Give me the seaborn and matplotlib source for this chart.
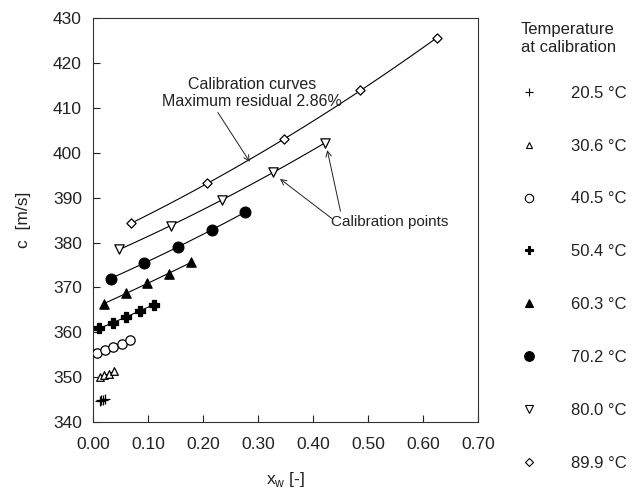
import numpy as np
import pandas as pd
import matplotlib
matplotlib.use("Agg")
import matplotlib.pyplot as plt
from matplotlib.lines import Line2D
import seaborn as sns

sns.set_style("ticks")
plt.rcParams['font.family'] = ['Liberation Sans', 'DejaVu Sans']
plt.rcParams['mathtext.fontset'] = 'custom'
plt.rcParams['mathtext.rm'] = 'Liberation Sans'

# calibration points: water fraction x_w and sound speed c (m/s)
temps = ["20.5", "30.6", "40.5", "50.4", "60.3", "70.2", "80.0", "89.9"]

x_205 = [0.012, 0.015, 0.018, 0.021]
c_205 = [344.8, 344.9, 345.0, 345.1]
x_306 = [0.012, 0.020, 0.029, 0.038]
c_306 = [350.1, 350.4, 350.8, 351.3]
x_405 = [0.007, 0.022, 0.037, 0.052, 0.067]
c_405 = [355.5, 356.1, 356.8, 357.5, 358.3]
x_504 = [0.011, 0.037, 0.060, 0.085, 0.111]
c_504 = [360.9, 362.1, 363.5, 364.8, 366.2]
x_603 = [0.020, 0.060, 0.098, 0.138, 0.178]
c_603 = [366.4, 368.7, 370.9, 373.1, 375.6]
x_702 = [0.032, 0.093, 0.155, 0.216, 0.277]
c_702 = [372.0, 375.5, 379.0, 382.9, 386.8]
x_800 = [0.047, 0.141, 0.234, 0.328, 0.422]
c_800 = [378.5, 383.6, 389.6, 395.7, 402.2]
x_899 = [0.069, 0.208, 0.348, 0.486, 0.625]
c_899 = [384.3, 393.2, 403.1, 413.9, 425.6]

xs = [x_205, x_306, x_405, x_504, x_603, x_702, x_800, x_899]
cs = [c_205, c_306, c_405, c_504, c_603, c_702, c_800, c_899]

# marker, filled?, size
styles = [("+", True, 45), ("^", False, 30), ("o", False, 45), ("P", True, 45),
          ("^", True, 45), ("o", True, 60), ("v", False, 45), ("D", False, 22)]

fig = plt.figure(figsize=(6.33, 4.92), dpi=100)
ax = fig.add_axes([0.147, 0.142, 0.608, 0.821])

for t, x, c, (m, filled, s) in zip(temps, xs, cs, styles):
    df = pd.DataFrame({"x": x, "c": c})
    # fitted calibration curve
    sns.regplot(data=df, x="x", y="c", order=2, ci=None, scatter=False, ax=ax,
                line_kws={"color": "black", "lw": 0.8})
    sns.scatterplot(data=df, x="x", y="c", marker=m, s=s, ax=ax,
                    color="black" if filled else "white", edgecolor="black",
                    linewidth=0.9, zorder=3)

ax.set_xlim(0, 0.70)
ax.set_ylim(340, 430)
ax.set_xticks(np.arange(0, 0.71, 0.1))
ax.set_xticklabels([f"{v:.2f}" for v in np.arange(0, 0.71, 0.1)])
ax.set_yticks(np.arange(340, 431, 10))
ax.tick_params(direction="in", labelsize=12.5, length=5, width=0.8, colors="#222222",
               labelcolor="#222222")
ax.tick_params(axis="x", pad=11)
ax.tick_params(axis="y", pad=8)
for sp in ax.spines.values():
    sp.set_linewidth(0.8)
    sp.set_color("#333333")
ax.set_xlabel(r"x$_\mathrm{w}$ [-]", fontsize=12.5, labelpad=13, color="#222222")
ax.set_ylabel("c  [m/s]", fontsize=12.5, labelpad=16, color="#222222")

arrow = dict(arrowstyle="->", color="#222222", lw=0.7, shrinkA=0, shrinkB=0)
ax.text(0.289, 413.3, "Calibration curves\nMaximum residual 2.86%", ha="center",
        va="center", fontsize=11.5, linespacing=1.2, color="#222222")
ax.annotate("", xy=(0.285, 398.0), xytext=(0.227, 409.0), arrowprops=arrow)
ax.annotate("", xy=(0.34, 394.2), xytext=(0.434, 385.4), arrowprops=arrow)
ax.annotate("", xy=(0.426, 400.6), xytext=(0.450, 387.0), arrowprops=arrow)
ax.text(0.433, 384.6, "Calibration points", fontsize=11, va="center", ha="left",
        color="#222222")

fig.text(0.823, 1 - 38.5 / 492, "Temperature\nat calibration", fontsize=12,
         ha="left", va="center", linespacing=1.32, color="#222222")

handles = []
for m, filled, s in styles:
    handles.append(Line2D([], [], ls="none", marker=m, markersize=np.sqrt(s) * 0.9,
                          markerfacecolor="black" if filled else "white",
                          markeredgecolor="black", color="black", markeredgewidth=0.8))
leg = fig.legend(handles, [f"{t} °C" for t in temps],
                 loc="upper left", bbox_to_anchor=(0.812, 1 - 79 / 492), frameon=False,
                 fontsize=12, labelspacing=2.27,
                 handletextpad=2.0, handlelength=1.0, borderaxespad=0,
                 labelcolor="#222222")

fig.savefig("out.png", dpi=100)
